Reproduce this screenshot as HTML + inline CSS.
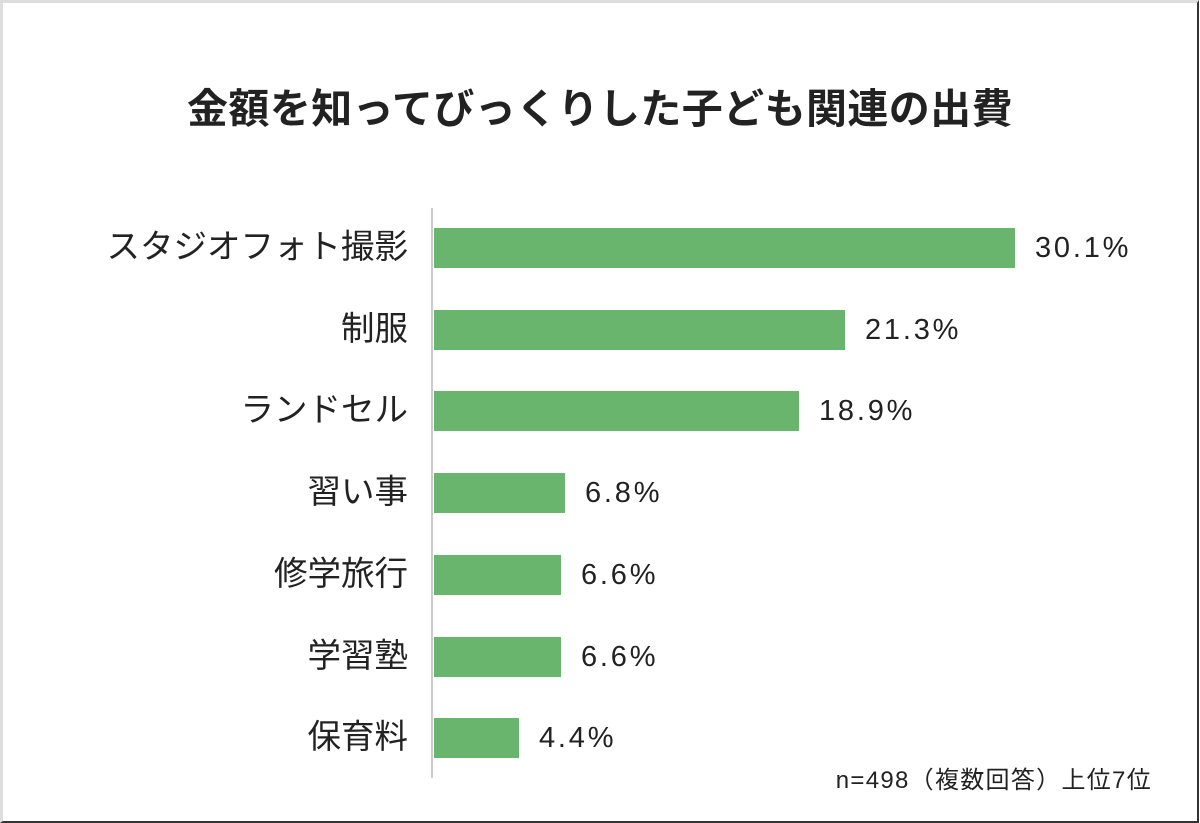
<!DOCTYPE html>
<html><head><meta charset="utf-8"><style>
body{margin:0;width:1200px;height:823px;background:#fff;overflow:hidden;position:relative;font-family:"Liberation Sans","Noto Sans CJK JP",sans-serif;color:#222}
.frame{position:absolute;left:0;top:0;width:1194px;height:818px;border-top:3px solid #ddd;border-left:3px solid #ddd;border-right:2px solid #333;border-bottom:2px solid #333;box-sizing:content-box}
.title{position:absolute;left:0;width:1200px;top:84px;text-align:center;font-size:41px;letter-spacing:0.4px;font-weight:bold;line-height:50px}
.axis{position:absolute;left:431px;top:208px;width:2px;height:570px;background:#ccc}
.bar{position:absolute;left:434px;height:40px;background:#69b56e}
.lab{position:absolute;right:792px;font-size:33.5px;line-height:40px;white-space:nowrap}
.val{position:absolute;font-size:29px;line-height:40px;letter-spacing:2.8px}
.note{position:absolute;right:48px;top:760px;font-size:24px;letter-spacing:1.3px}
</style></head><body>
<div class="frame"></div>
<div class="title">金額を知ってびっくりした子ども関連の出費</div>
<div class="axis"></div>
<div class="lab" style="top:228px">スタジオフォト撮影</div><div class="bar" style="top:228px;width:581px"></div><div class="val" style="top:228px;left:1035px">30.1%</div>
<div class="lab" style="top:310px">制服</div><div class="bar" style="top:310px;width:411px"></div><div class="val" style="top:310px;left:865px">21.3%</div>
<div class="lab" style="top:391px">ランドセル</div><div class="bar" style="top:391px;width:365px"></div><div class="val" style="top:391px;left:819px">18.9%</div>
<div class="lab" style="top:473px">習い事</div><div class="bar" style="top:473px;width:131px"></div><div class="val" style="top:473px;left:585px">6.8%</div>
<div class="lab" style="top:555px">修学旅行</div><div class="bar" style="top:555px;width:127px"></div><div class="val" style="top:555px;left:581px">6.6%</div>
<div class="lab" style="top:637px">学習塾</div><div class="bar" style="top:637px;width:127px"></div><div class="val" style="top:637px;left:581px">6.6%</div>
<div class="lab" style="top:718px">保育料</div><div class="bar" style="top:718px;width:85px"></div><div class="val" style="top:718px;left:539px">4.4%</div>
<div class="note">n=498（複数回答）上位7位</div>
</body></html>
